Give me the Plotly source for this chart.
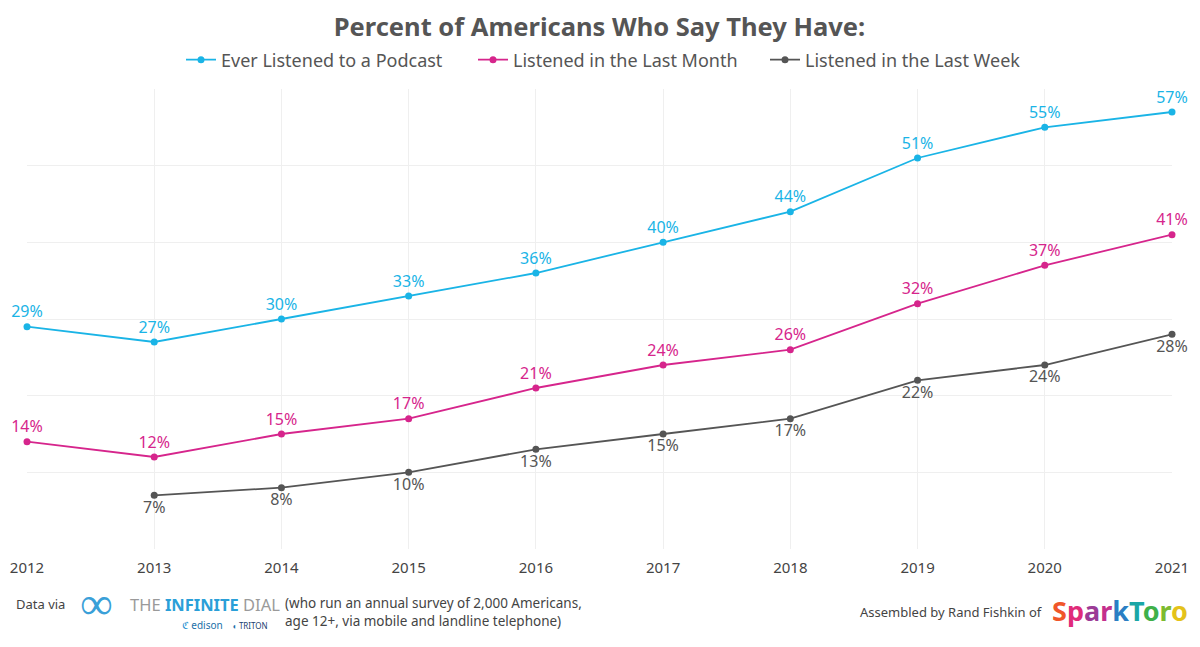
import plotly.graph_objects as go

years = [2012, 2013, 2014, 2015, 2016, 2017, 2018, 2019, 2020, 2021]
ever = [29, 27, 30, 33, 36, 40, 44, 51, 55, 57]
month = [14, 12, 15, 17, 21, 24, 26, 32, 37, 41]
week = [None, 7, 8, 10, 13, 15, 17, 22, 24, 28]

names = ["Ever Listened to a Podcast", "Listened in the Last Month", "Listened in the Last Week"]
colors = ["#1ab4e6", "#d6258c", "#555555"]
positions = ["top center", "top center", "bottom center"]

FONT = "Noto Sans"
OFF = 8  # page body margin
W, H = 1200 - OFF, 647 - OFF
L, T, R, B = 27 - OFF, 89 - OFF, 28, 98

fig = go.Figure()
for vals, name, col, pos in zip([ever, month, week], names, colors, positions):
    fig.add_trace(go.Scatter(
        x=years, y=vals, name=name, mode="lines+markers+text",
        line=dict(color=col, width=1.8),
        marker=dict(color=col, size=7),
        text=[f"{v}%" if v is not None else "" for v in vals],
        textposition=pos,
        textfont=dict(color=col, size=16, family=FONT),
        cliponaxis=False,
    ))

pw, ph = W - L - R, H - T - B
def py2paper(py):
    return (H - B - (py - OFF)) / ph
def px2paper(px):
    return (px - OFF - L) / pw

fig.update_layout(
    width=W, height=H,
    paper_bgcolor="white", plot_bgcolor="white",
    margin=dict(l=L, r=R, t=T, b=B, autoexpand=False),
    font=dict(family=FONT, color="#555"),
    title=dict(text="<b>Percent of Americans Who Say They Have:</b>", x=0.5, xanchor="center",
               xref="paper", y=1 - (27 - OFF) / H, yanchor="middle",
               font=dict(size=25.5, color="#555", family=FONT)),
    legend=dict(orientation="h", x=px2paper(181), xanchor="left", y=py2paper(60), yanchor="middle",
                font=dict(size=18, color="#555", family=FONT), itemwidth=30,
                entrywidth=247, entrywidthmode="pixels",
                traceorder="normal"),
    showlegend=True,
)
fig.update_xaxes(range=[2012, 2021], tickvals=years, showgrid=True, gridcolor="#efefef",
                 zeroline=False, showline=False, ticks="", tickfont=dict(size=15, color="#444"),
                 ticklabelstandoff=8, automargin=False)
fig.update_yaxes(range=[0, 60], dtick=10, showgrid=True, gridcolor="#efefef", zeroline=False,
                 showticklabels=False, showline=False, automargin=False)

def pann(px, py, text, size, color="#444", anchor="left", align="left"):
    fig.add_annotation(x=px2paper(px), y=py2paper(py), xref="paper", yref="paper",
                       text=text, showarrow=False, xanchor=anchor, yanchor="middle",
                       align=align, font=dict(size=size, color=color, family=FONT))

pann(14, 604, "Data via", 13)
pann(78, 601, "∞", 46, "#3aa0d8")
pann(128, 604, "THE <b><span style='color:#2a9fd8'>INFINITE</span></b> DIAL", 16.5, "#9a9a9a")
pann(180, 625, "<b><span style='color:#1a8fcf'>ℭ</span></b> edison", 10, "#1a6fa8")
pann(230, 625, "<span style='color:#1a6fa8'>◖</span> TRITON", 8, "#1a3f6f")
pann(283, 612, "(who run an annual survey of 2,000 Americans,<br>age 12+, via mobile and landline telephone)", 13.5)
pann(1045, 612, "Assembled by Rand Fishkin of", 13, anchor="right")
letters = [("S", "#f0562a"), ("p", "#e02b7a"), ("a", "#9b3b96"), ("r", "#c42f8d"),
           ("k", "#2a7fc4"), ("T", "#1aa6a6"), ("o", "#3fb04a"), ("r", "#7cbb30"), ("o", "#e4c21a")]
spark = "".join(f"<span style='color:{c}'>{l}</span>" for l, c in letters)
pann(1050, 610, f"<b>{spark}</b>", 27)

fig.write_html("out.html")
